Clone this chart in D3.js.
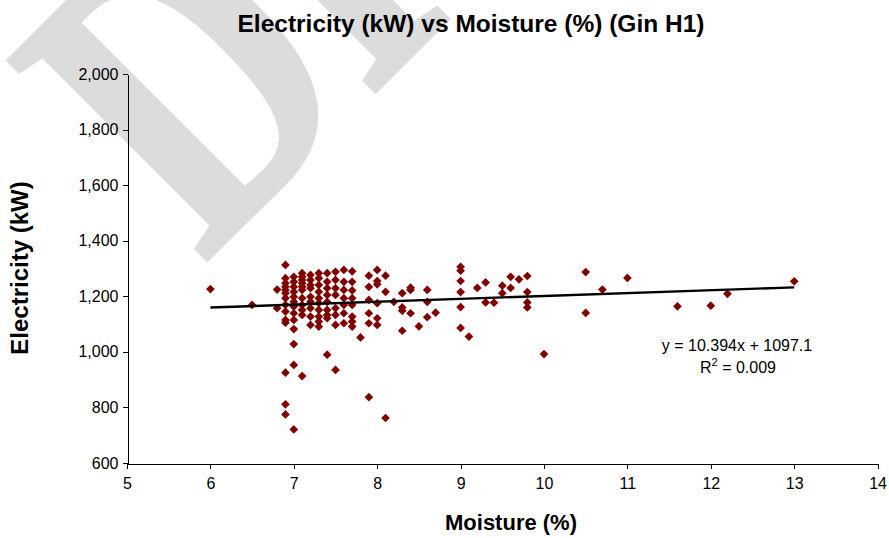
<!DOCTYPE html>
<html>
<head>
<meta charset="utf-8">
<script src="https://cdn.jsdelivr.net/npm/d3@7"></script>
<style>
  html, body { margin: 0; padding: 0; background: #ffffff; }
  svg { display: block; }
</style>
</head>
<body>
<svg id="chart" width="889" height="538"></svg>
<script>
// ---------------- data ----------------
const chartTitle = "Electricity (kW) vs Moisture (%) (Gin H1)";
const xAxisTitle = "Moisture (%)";
const yAxisTitle = "Electricity (kW)";
const watermarkText = "DRAFT";

const xTicks = [5, 6, 7, 8, 9, 10, 11, 12, 13, 14];
const yTicks = [600, 800, 1000, 1200, 1400, 1600, 1800, 2000];

// moisture levels (%) and the electricity readings (kW) observed at each level
const moistureLevels = [6.0, 6.5, 6.8, 6.9, 7.0, 7.1, 7.2, 7.3, 7.4, 7.5, 7.6, 7.7, 7.8, 7.9, 8.0, 8.1, 8.2, 8.3, 8.4, 8.5, 8.6, 8.7,
  9.0, 9.1, 9.2, 9.3, 9.4, 9.5, 9.6, 9.7, 9.8, 10.0, 10.5, 10.7, 11.0, 11.6, 12.0, 12.2, 13.0];
const electricityReadings = [
  [1226],
  [1169],
  [1224, 1157],
  [1313, 1265, 1247, 1234, 1223, 1211, 1193, 1169, 1145, 1115, 1105, 925, 811, 775],
  [1270, 1252, 1234, 1216, 1198, 1180, 1163, 1139, 1115, 1082, 1028, 953, 721],
  [1283, 1270, 1259, 1247, 1234, 1223, 1193, 1169, 1151, 1133, 913],
  [1277, 1259, 1241, 1229, 1198, 1180, 1157, 1127, 1097],
  [1283, 1265, 1241, 1216, 1193, 1175, 1151, 1127, 1109, 1091],
  [1283, 1252, 1229, 1205, 1180, 1151, 1133, 1121, 990],
  [1288, 1259, 1229, 1205, 1157, 1133, 1097, 935],
  [1295, 1252, 1223, 1193, 1169, 1139, 1103],
  [1290, 1252, 1221, 1193, 1169, 1127, 1109, 1091],
  [1052],
  [1274, 1234, 1187, 1139, 1103, 837],
  [1295, 1255, 1243, 1175, 1121, 1097],
  [1274, 1216, 762],
  [1180],
  [1211, 1160, 1148, 1076],
  [1231, 1223, 1139],
  [1092],
  [1223, 1180, 1125],
  [1141],
  [1306, 1292, 1255, 1215, 1161, 1086],
  [1055],
  [1230],
  [1250, 1178],
  [1177],
  [1238, 1211],
  [1270, 1230],
  [1261],
  [1273, 1215, 1178, 1160],
  [992],
  [1287, 1140],
  [1224],
  [1266],
  [1164],
  [1166],
  [1209],
  [1254]
];

// linear trend line as printed on the chart
const trendSlope = 10.394;
const trendIntercept = 1097.1;
const trendRange = [6, 13];
const equationLabel = "y = 10.394x + 1097.1";
const r2Value = "0.009";

// ---------------- chart ----------------
const svg = d3.select("#chart");
const W = 889, H = 538;
const plot = { left: 127, right: 877.6, top: 74, bottom: 463 };
const FONT = "'Liberation Sans', Arial, Helvetica, sans-serif";

svg.append("rect").attr("width", W).attr("height", H).attr("fill", "#ffffff");

// watermark (behind everything)
svg.append("text")
  .attr("transform", "translate(203,264) rotate(-45) scale(0.76,1)")
  .attr("font-family", "'Liberation Serif', 'Times New Roman', serif")
  .attr("font-weight", "bold")
  .attr("font-size", 430)
  .attr("fill", "#dcdcdc")
  .attr("stroke", "#dcdcdc")
  .attr("stroke-width", 4)
  .text(watermarkText);

const x = d3.scaleLinear().domain([xTicks[0], xTicks[xTicks.length - 1]]).range([plot.left, plot.right]);
const y = d3.scaleLinear().domain([yTicks[0], yTicks[yTicks.length - 1]]).range([plot.bottom, plot.top]);

// points
const points = [];
moistureLevels.forEach((m, i) => electricityReadings[i].forEach(e => points.push({ m, e })));

const diamond = d3.symbol().type(d3.symbolSquare).size(38);
svg.append("g").selectAll("path").data(points).join("path")
  .attr("d", diamond)
  .attr("transform", d => `translate(${x(d.m)},${y(d.e)}) rotate(45)`)
  .attr("fill", "#800000");

// trend line
svg.append("line")
  .attr("x1", x(trendRange[0])).attr("y1", y(trendSlope * trendRange[0] + trendIntercept))
  .attr("x2", x(trendRange[1])).attr("y2", y(trendSlope * trendRange[1] + trendIntercept))
  .attr("stroke", "#000").attr("stroke-width", 2.4);

// axes
const yAxis = d3.axisLeft(y).tickValues(yTicks).tickSize(5).tickSizeOuter(0).tickPadding(4)
  .tickFormat(d3.format(","));
const gy = svg.append("g").attr("transform", `translate(${plot.left + 0.5},0)`).call(yAxis);

const xAxis = d3.axisBottom(x).tickValues(xTicks).tickSize(5).tickSizeOuter(0).tickPadding(9);
const gx = svg.append("g").attr("transform", `translate(0,${plot.bottom + 0.5})`).call(xAxis);

[gx, gy].forEach(g => {
  g.select(".domain").attr("stroke", "#000").attr("stroke-width", 1);
  g.selectAll(".tick line").attr("stroke", "#000").attr("stroke-width", 1);
  g.selectAll(".tick text").attr("font-family", FONT).attr("font-size", 16).attr("fill", "#000");
});
svg.selectAll(".domain, .tick line").attr("shape-rendering", "crispEdges");

// title
svg.append("text").attr("x", 471).attr("y", 32).attr("text-anchor", "middle")
  .attr("font-family", FONT).attr("font-weight", "bold").attr("font-size", 24.5).attr("fill", "#000")
  .text(chartTitle);

// axis titles
svg.append("text").attr("x", 511).attr("y", 530).attr("text-anchor", "middle")
  .attr("font-family", FONT).attr("font-weight", "bold").attr("font-size", 22).attr("fill", "#000")
  .text(xAxisTitle);
svg.append("text").attr("transform", "translate(28,268) rotate(-90)").attr("text-anchor", "middle")
  .attr("font-family", FONT).attr("font-weight", "bold").attr("font-size", 24).attr("fill", "#000")
  .text(yAxisTitle);

// equation
svg.append("text").attr("x", 737).attr("y", 351).attr("text-anchor", "middle")
  .attr("font-family", FONT).attr("font-size", 16).attr("fill", "#000")
  .text(equationLabel);
const r2 = svg.append("text").attr("x", 738).attr("y", 373).attr("text-anchor", "middle")
  .attr("font-family", FONT).attr("font-size", 16).attr("fill", "#000");
r2.append("tspan").text("R");
r2.append("tspan").attr("dy", -7).attr("font-size", 11).text("2");
r2.append("tspan").attr("dy", 7).text(" = " + r2Value);
</script>
</body>
</html>
